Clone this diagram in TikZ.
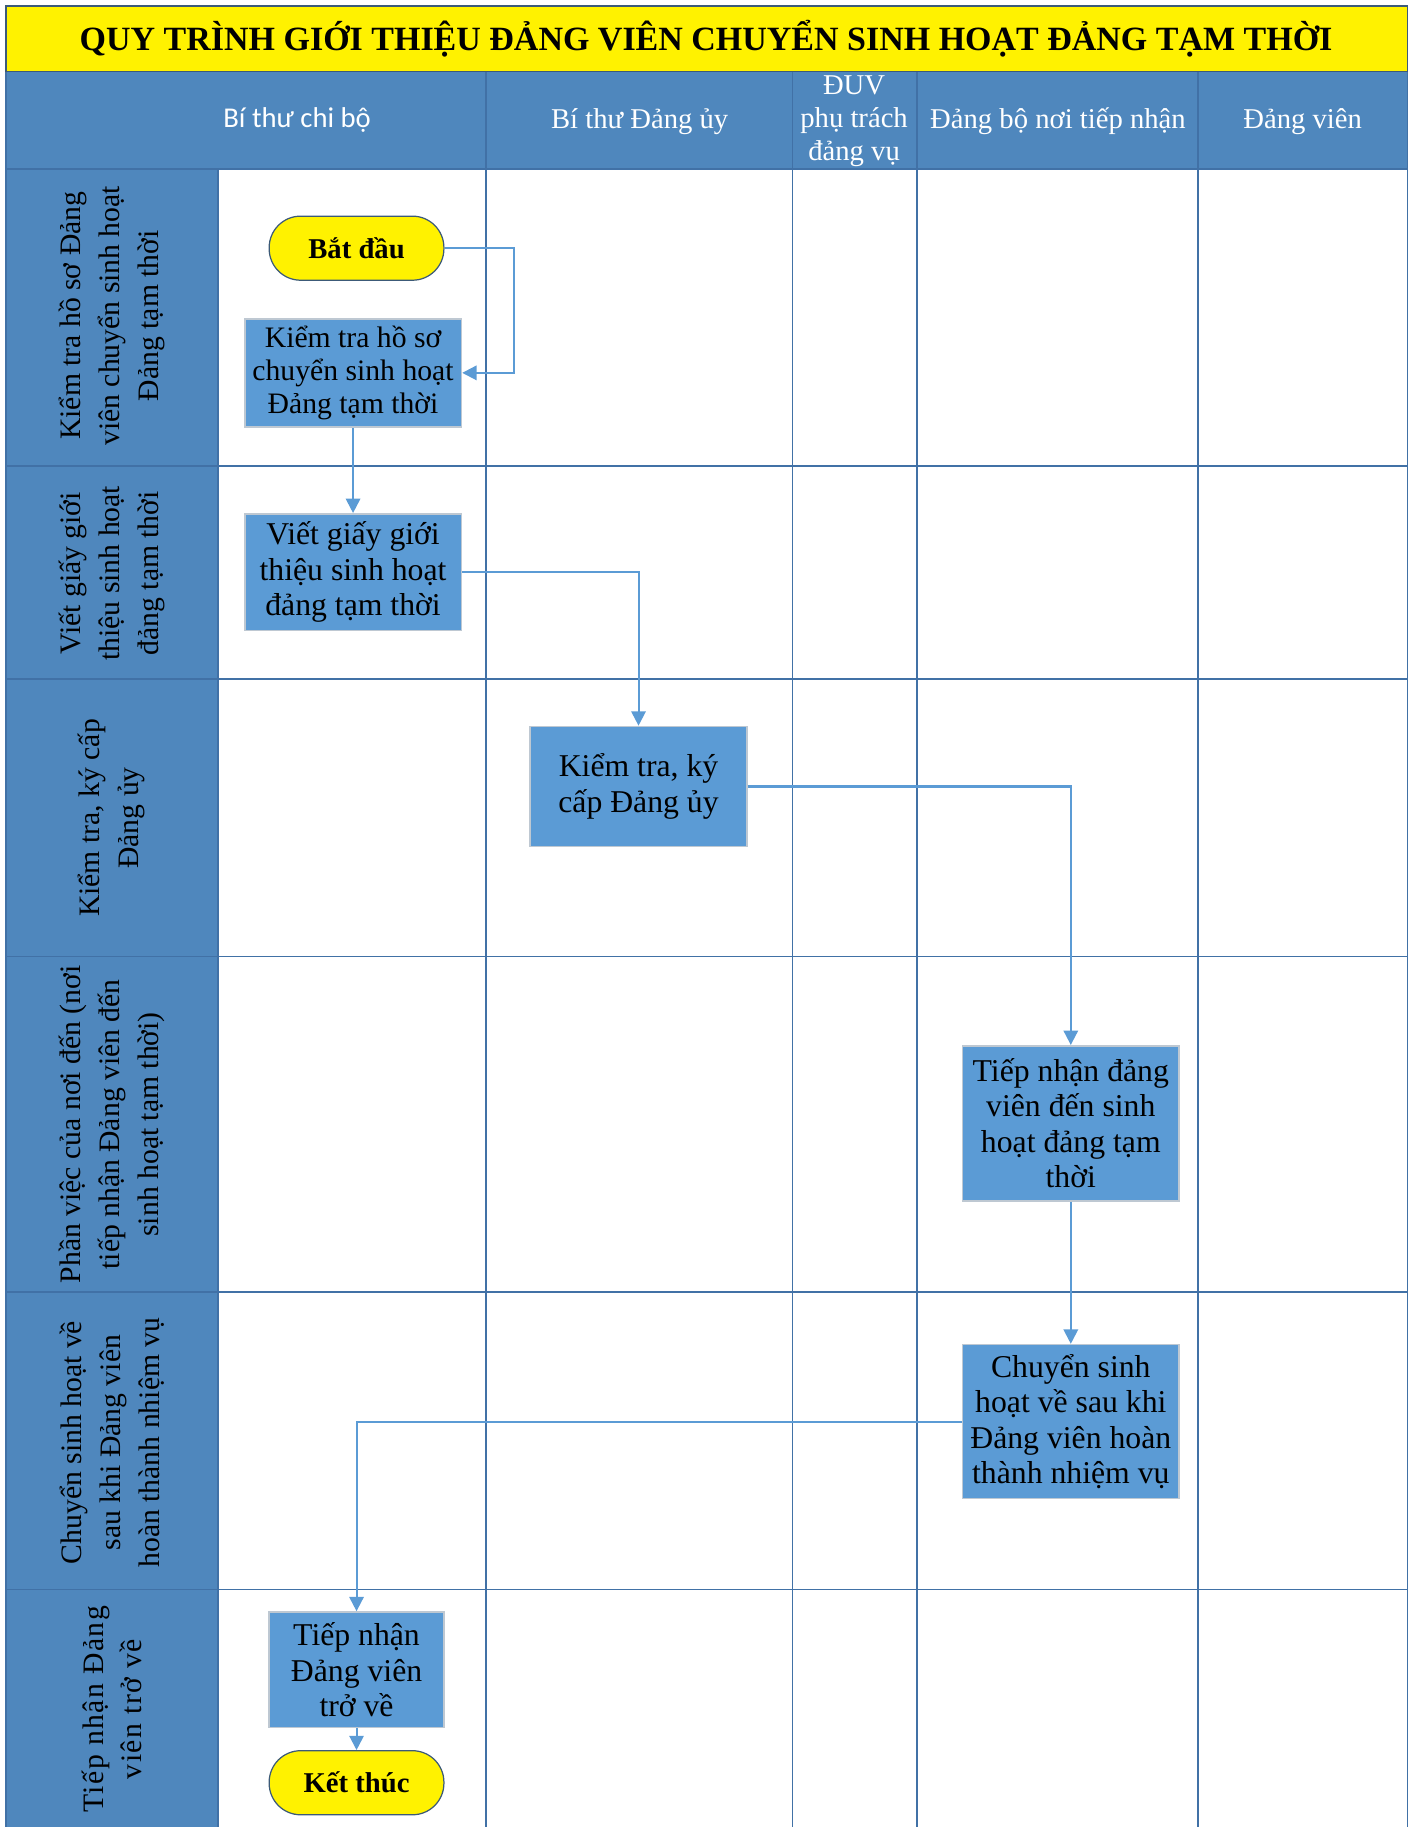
\documentclass[tikz,border=0pt]{standalone}
\usepackage{fontspec}
\setmainfont{Liberation Serif}
\newfontfamily\calibri{Carlito}
\usetikzlibrary{arrows.meta,positioning}
\definecolor{lanebg}{RGB}{79,135,189}
\definecolor{gridblue}{RGB}{65,113,166}
\definecolor{boxblue}{RGB}{91,155,213}
\definecolor{boxedge}{RGB}{190,200,210}
\definecolor{flowblue}{RGB}{91,155,213}
\definecolor{titleedge}{RGB}{60,90,120}
\tikzset{
  gridline/.style={draw=gridblue, line width=0.8pt},
  headtext/.style={text=white, align=center, font=\fontsize{14}{16}\selectfont},
  lanetext/.style={rotate=90, align=center, font=\fontsize{14.5}{19}\selectfont},
  procbox/.style={draw=boxedge, fill=boxblue, line width=0.8pt, align=center,
    inner sep=2pt, font=\fontsize{15.5}{17.2}\selectfont},
  termbox/.style={draw=titleedge, fill=yellow, line width=0.6pt, align=center,
    minimum width=3cm, minimum height=1.1cm, rounded corners=0.54cm,
    font=\bfseries\fontsize{14}{17}\selectfont},
  flow/.style={draw=flowblue, line width=1pt, -{Triangle[length=7pt,width=7pt]}}
}
\begin{document}
\begin{tikzpicture}[x=0.02cm,y=-0.02cm]
  \useasboundingbox (0,0) rectangle (1213,1568);
  % title band
  \draw[draw=titleedge, fill=yellow, line width=0.8pt] (5,5) rectangle (1208,62);
  \node (title) at (606,33) {\bfseries\fontsize{16.6}{20}\selectfont QUY TRÌNH GIỚI THIỆU ĐẢNG VIÊN CHUYỂN SINH HOẠT ĐẢNG TẠM THỜI};
  % header row and lane column
  \fill[lanebg] (5,62) rectangle (1208,145);
  \fill[lanebg] (5,145) rectangle (187,1568);
  \foreach \x in {417,680,787,1028,1208}
    \draw[gridline] (\x,62) -- (\x,1568);
  \foreach \y in {145,400,583,821,1109,1364}
    \draw[gridline] (5,\y) -- (1208,\y);
  \draw[gridline] (5,62) -- (5,1568);
  \draw[gridline] (187,145) -- (187,1568);
  % column heads
  \node[headtext, font=\calibri\fontsize{14}{16}\selectfont] (hChiBo) at (255,103) {Bí thư chi bộ};
  \node[headtext] (hDangUy) at (549,104) {Bí thư Đảng ủy};
  \node[headtext] (hDuv) at (733,104) {ĐUV\\phụ trách\\đảng vụ};
  \node[headtext] (hNoiNhan) at (908,104) {Đảng bộ nơi tiếp nhận};
  \node[headtext] (hDangVien) at (1118,104) {Đảng viên};
  % lane labels
  \node[lanetext] (lane1) at (96,271) {Kiểm tra hồ sơ Đảng\\viên chuyển sinh hoạt\\Đảng tạm thời};
  \node[lanetext] (lane2) at (96,492) {Viết giấy giới\\thiệu sinh hoạt\\đảng tạm thời};
  \node[lanetext] (lane3) at (96,702) {Kiểm tra, ký cấp\\Đảng ủy};
  \node[lanetext] (lane4) at (96,965) {Phần việc của nơi đến (nơi\\tiếp nhận Đảng viên đến\\sinh hoạt tạm thời)};
  \node[lanetext] (lane5) at (96,1238) {Chuyển sinh hoạt về\\sau khi Đảng viên\\hoàn thành nhiệm vụ};
  \node[lanetext] (lane6) at (96,1467) {\addfontfeatures{LetterSpace=5}Tiếp nhận Đảng\\\addfontfeatures{LetterSpace=5}viên trở về};
  % steps
  \node[termbox] (start) at (306,213) {Bắt đầu};
  \node[procbox, minimum width=3.72cm, minimum height=1.86cm, font=\fontsize{14.5}{16}\selectfont] (chk) at (303,320) {Kiểm tra hồ sơ\\chuyển sinh hoạt\\Đảng tạm thời};
  \node[procbox, minimum width=3.72cm, minimum height=2cm] (letter) at (303,491) {Viết giấy giới\\thiệu sinh hoạt\\đảng tạm thời};
  \node[procbox, minimum width=3.72cm, minimum height=2.06cm] (sign) at (548,675) {Kiểm tra, ký\\cấp Đảng ủy};
  \node[procbox, minimum width=3.72cm, minimum height=2.66cm] (recv) at (919,964) {Tiếp nhận đảng\\viên đến sinh\\hoạt đảng tạm\\thời};
  \node[procbox, minimum width=3.72cm, minimum height=2.64cm] (back) at (919,1220) {Chuyển sinh\\hoạt về sau khi\\Đảng viên hoàn\\thành nhiệm vụ};
  \node[procbox, minimum width=3cm, minimum height=1.98cm] (ret) at (306,1433) {Tiếp nhận\\Đảng viên\\trở về};
  \node[termbox] (stop) at (306,1530) {Kết thúc};
  % connectors
  \draw[flow] (start.east) -- ++(60,0) |- (chk.east);
  \draw[flow] (chk) -- (letter);
  \draw[flow] (letter.east) -| (sign.north);
  \draw[flow] (sign.east) -| (recv.north);
  \draw[flow] (recv) -- (back);
  \draw[flow] (back.west) -| (ret.north);
  \draw[flow] (ret) -- (stop);
\end{tikzpicture}
\end{document}
